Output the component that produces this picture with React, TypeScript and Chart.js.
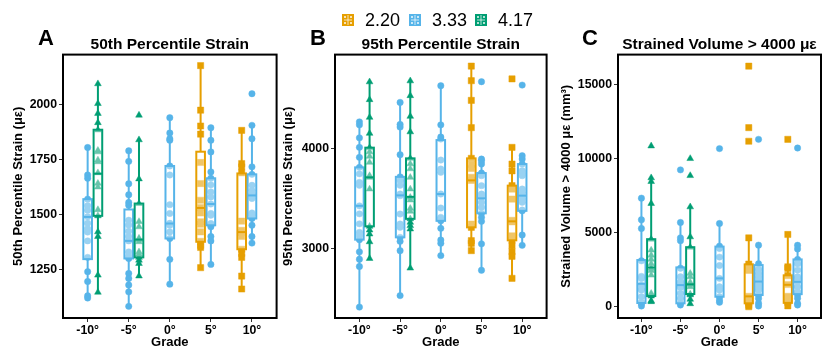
import React, { useEffect, useRef } from "react";
import { Chart, registerables } from "chart.js";

Chart.register(...registerables);

const FONT = "'Liberation Sans', Arial, Helvetica, sans-serif";
Chart.defaults.font.family = FONT;

// ---------- categories / groups ----------
const GRADES = ["-10°", "-5°", "0°", "5°", "10°"];
const GROUPS = ["2.20", "3.33", "4.17"];
const COLORS = ["#E69F00", "#56B4E9", "#009E73"];
const HALOS = ["rgba(230,159,0,0.45)", "rgba(86,180,233,0.45)", "rgba(0,158,115,0.45)"];
const SHAPES = ["rect", "circle", "triangle"];

// ---------- Panel A: 50th percentile strain (points per grade) ----------
const P50_ORANGE = [null, null, null,
  [2178, 1975, 1903, 1866, 1737, 1641, 1565, 1532, 1507, 1467, 1456, 1421, 1378, 1360, 1350, 1258],
  [1883, 1732, 1717, 1690, 1470, 1428, 1418, 1400, 1342, 1323, 1305, 1220, 1161]];
const P50_BLUE = [
  [1805, 1680, 1665, 1570, 1540, 1520, 1490, 1460, 1435, 1420, 1380, 1305, 1240, 1195, 1130, 1120],
  [1790, 1742, 1640, 1590, 1555, 1542, 1474, 1452, 1424, 1400, 1380, 1330, 1312, 1300, 1232, 1209, 1179, 1148, 1082],
  [1941, 1871, 1845, 1838, 1721, 1680, 1545, 1505, 1460, 1451, 1421, 1391, 1296, 1183],
  [1895, 1838, 1785, 1694, 1665, 1635, 1603, 1580, 1548, 1505, 1497, 1459, 1451, 1444, 1400, 1380, 1273],
  [2050, 1906, 1845, 1717, 1683, 1633, 1610, 1595, 1583, 1573, 1507, 1497, 1482, 1451, 1400, 1370]];
const P50_GREEN = [
  [2095, 2005, 1960, 1918, 1885, 1792, 1785, 1748, 1740, 1690, 1642, 1625, 1522, 1494, 1421, 1400, 1224, 1146],
  [1952, 1840, 1662, 1550, 1468, 1444, 1392, 1386, 1376, 1330, 1320, 1305, 1292, 1277, 1220],
  null, null, null];
// box stats: [whisker low, Q1, median, Q3, whisker high]
const P50_ORANGE_BOX = [null, null, null, [1258, 1376, 1530, 1786, 2178], [1161, 1342, 1420, 1687, 1883]];
const P50_BLUE_BOX = [[1120, 1297, 1489, 1570, 1805], [1082, 1300, 1380, 1523, 1790], [1183, 1391, 1459, 1721, 1941],
  [1273, 1451, 1548, 1665, 1895], [1370, 1482, 1587, 1683, 1906]];
const P50_GREEN_BOX = [[1146, 1494, 1686, 1886, 2095], [1220, 1305, 1386, 1550, 1840], null, null, null];
const P50_TICKS = [1250, 1500, 1750, 2000];

// ---------- Panel B: 95th percentile strain ----------
const P95_ORANGE = [null, null, null,
  [4823, 4677, 4480, 4207, 3900, 3840, 3800, 3710, 3680, 3243, 3210, 3077, 3050, 2977],
  [4695, 4010, 3843, 3775, 3627, 3593, 3493, 3280, 3265, 3125, 3080, 3027, 2967, 2920, 2700]];
const P95_BLUE = [
  [4265, 4235, 4105, 4010, 3910, 3810, 3745, 3660, 3630, 3425, 3345, 3245, 3160, 3127, 3087, 2965, 2890, 2818, 2412],
  [4460, 4240, 4213, 3937, 3715, 3677, 3630, 3543, 3527, 3343, 3243, 3210, 3110, 3070, 2977, 2527],
  [4627, 4235, 4113, 4093, 3883, 3793, 3760, 3543, 3403, 3310, 3293, 3275, 3200, 3083, 3050, 2927],
  [4667, 3893, 3877, 3843, 3753, 3727, 3627, 3543, 3510, 3460, 3410, 3350, 3310, 3270, 3045, 2780],
  [4633, 3927, 3893, 3843, 3777, 3750, 3727, 3593, 3560, 3527, 3493, 3460, 3383, 3375, 3133, 3030]];
const P95_GREEN = [
  [4665, 4487, 4310, 4150, 4007, 3965, 3920, 3860, 3727, 3710, 3593, 3220, 3183, 3143, 3065, 2898],
  [4675, 4527, 4320, 4165, 3900, 3845, 3795, 3710, 3593, 3510, 3483, 3400, 3370, 3295, 3260, 3227, 3193, 2802],
  null, null, null];
const P95_ORANGE_BOX = [null, null, null, [2977, 3210, 3680, 3900, 4823], [2700, 3080, 3270, 3627, 4010]];
const P95_BLUE_BOX = [[2412, 3087, 3425, 3810, 4265], [2527, 3110, 3530, 3715, 4460], [2927, 3275, 3543, 4083, 4627],
  [2780, 3350, 3500, 3753, 3893], [3030, 3375, 3527, 3843, 3927]];
const P95_GREEN_BOX = [[2898, 3220, 3710, 4007, 4665], [2802, 3295, 3515, 3900, 4675], null, null, null];
const P95_TICKS = [3000, 4000];

// ---------- Panel C: strained volume > 4000 με (mm³) ----------
const VOL_ORANGE = [null, null, null,
  [16240, 12090, 11170, 4650, 2880, 2700, 2520, 2450, 700, 450, 250, 100, 0],
  [11300, 4878, 2696, 2590, 2100, 1500, 700, 560, 300, 60]];
const VOL_BLUE = [
  [7330, 5870, 5283, 3100, 2050, 1900, 1450, 1200, 1125, 674, 300, 200, 50],
  [9240, 5688, 4650, 4460, 2600, 2022, 1685, 1460, 1300, 903, 566, 229, 115],
  [10675, 5620, 4090, 3935, 3350, 2780, 1914, 1348, 1125, 674, 450, 300],
  [11300, 4158, 2900, 2520, 2250, 2000, 1752, 1577, 1348, 1125, 790, 560, 230, 50],
  [10715, 4150, 3900, 3194, 2900, 2473, 2022, 1914, 1700, 1348, 1000, 788, 566, 229, 115]];
const VOL_GREEN = [
  [10850, 8700, 8450, 6968, 4560, 3820, 3480, 3200, 2900, 2600, 2450, 2130, 900, 720, 400, 340],
  [10000, 8850, 6740, 4717, 4020, 2251, 2022, 1650, 1510, 1348, 856, 800, 500, 200],
  null, null, null];
const VOL_ORANGE_BOX = [null, null, null, [0, 230, 700, 2860, 4650], [60, 260, 1480, 2120, 4878]];
const VOL_BLUE_BOX = [[50, 250, 1550, 3150, 7330], [115, 229, 1460, 2655, 5688], [300, 674, 1914, 4060, 5620],
  [50, 790, 1700, 2810, 4158], [115, 850, 1680, 3194, 4150]];
const VOL_GREEN_BOX = [[340, 720, 2650, 4560, 8700], [200, 856, 1510, 4020, 6740], null, null, null];
const VOL_TICKS = [0, 5000, 10000, 15000];

// ---------- panel definitions (built from the arrays above) ----------
const PANELS = [
  {
    letter: "A", left: 0, width: 282, plotLeft: 63, padRight: 5,
    title: "50th Percentile Strain", yTitle: "50th Percentile Strain (με)",
    yMin: 1029, yMax: 2228, ticks: P50_TICKS,
    points: [P50_ORANGE, P50_BLUE, P50_GREEN], boxes: [P50_ORANGE_BOX, P50_BLUE_BOX, P50_GREEN_BOX],
  },
  {
    letter: "B", left: 270, width: 282, plotLeft: 335, padRight: 3,
    title: "95th Percentile Strain", yTitle: "95th Percentile Strain (με)",
    yMin: 2303, yMax: 4938, ticks: P95_TICKS,
    points: [P95_ORANGE, P95_BLUE, P95_GREEN], boxes: [P95_ORANGE_BOX, P95_BLUE_BOX, P95_GREEN_BOX],
  },
  {
    letter: "C", left: 548, width: 283, plotLeft: 618, padRight: 10,
    title: "Strained Volume > 4000 με", yTitle: "Strained Volume > 4000 με (mm³)",
    yMin: -761, yMax: 17020, ticks: VOL_TICKS,
    points: [VOL_ORANGE, VOL_BLUE, VOL_GREEN], boxes: [VOL_ORANGE_BOX, VOL_BLUE_BOX, VOL_GREEN_BOX],
  },
];

const DODGE = [-0.25, 0, 0.25];
const BOX_HALF = 0.105;
const RADII = [4.4, 3.2, 3.9];
const PAD_LEFT = 11;

function makeBoxPlugin(boxes) {
  return {
    id: "boxes",
    beforeDatasetsDraw(chart) {
      const { ctx } = chart;
      const x = chart.scales.x, y = chart.scales.y;
      ctx.save();
      ctx.lineWidth = 2;
      boxes.forEach((byGrade, s) => {
        byGrade.forEach((st, i) => {
          if (!st) return;
          const [lo, q1, , q3, hi] = st;
          const xc = x.getPixelForValue(i + DODGE[s]);
          ctx.strokeStyle = COLORS[s];
          ctx.beginPath();
          ctx.moveTo(xc, y.getPixelForValue(lo));
          ctx.lineTo(xc, y.getPixelForValue(q1));
          ctx.moveTo(xc, y.getPixelForValue(q3));
          ctx.lineTo(xc, y.getPixelForValue(hi));
          ctx.stroke();
        });
      });
      ctx.restore();
    },
    afterDatasetsDraw(chart) {
      const { ctx, chartArea: a } = chart;
      const x = chart.scales.x, y = chart.scales.y;
      ctx.save();
      boxes.forEach((byGrade, s) => {
        byGrade.forEach((st, i) => {
          if (!st) return;
          const [, q1, med, q3] = st;
          const x0 = x.getPixelForValue(i + DODGE[s] - BOX_HALF);
          const x1 = x.getPixelForValue(i + DODGE[s] + BOX_HALF);
          const yTop = y.getPixelForValue(q3);
          const yBot = y.getPixelForValue(q1);
          const yMed = y.getPixelForValue(med);
          ctx.fillStyle = "rgba(255,255,255,0.4)";
          ctx.fillRect(x0, yTop, x1 - x0, yBot - yTop);
          ctx.strokeStyle = COLORS[s];
          ctx.lineWidth = 2;
          ctx.strokeRect(x0, yTop, x1 - x0, yBot - yTop);
          ctx.beginPath();
          ctx.moveTo(x0, yMed);
          ctx.lineTo(x1, yMed);
          ctx.stroke();
        });
      });
      ctx.strokeStyle = "#000";
      ctx.lineWidth = 2;
      ctx.strokeRect(a.left, a.top, a.right - a.left, a.bottom - a.top);
      ctx.restore();
    },
  };
}

function makeConfig(p) {
  const datasets = p.points.map((byGrade, s) => ({
    label: GROUPS[s],
    data: byGrade.flatMap((vals, i) => (vals ? vals.map((v) => ({ x: i + DODGE[s], y: v })) : [])),
    pointStyle: SHAPES[s],
    pointRadius: RADII[s],
    pointBackgroundColor: COLORS[s],
    pointBorderColor: HALOS[s],
    pointBorderWidth: 1,
    showLine: false,
  }));
  const tickFont = { family: FONT, size: 12.3, weight: "bold" };
  const titleFont = { family: FONT, size: 13, weight: "bold" };
  return {
    type: "scatter",
    data: { datasets },
    options: {
      animation: false,
      responsive: false,
      maintainAspectRatio: false,
      devicePixelRatio: 1,
      events: [],
      layout: { padding: { left: PAD_LEFT, right: p.padRight, top: 35, bottom: 0 } },
      plugins: {
        legend: { display: false },
        tooltip: { enabled: false },
        title: {
          display: true,
          text: p.title,
          fullSize: false,
          color: "#000",
          font: { family: FONT, size: 15.5, weight: "bold" },
          padding: { top: 0, bottom: 1 },
        },
      },
      scales: {
        x: {
          type: "linear",
          min: -0.6,
          max: 4.6,
          afterBuildTicks: (sc) => {
            sc.ticks = GRADES.map((_, i) => ({ value: i }));
          },
          afterFit: (sc) => {
            sc.height = 35;
          },
          ticks: {
            callback: (_v, i) => GRADES[i],
            color: "#000",
            font: tickFont,
            padding: 1,
            autoSkip: false,
            maxRotation: 0,
          },
          grid: { display: true, drawOnChartArea: false, drawTicks: true, tickLength: 4, color: "#333" },
          border: { display: false },
          title: { display: true, text: "Grade", color: "#000", font: titleFont, padding: { top: 0, bottom: 3 } },
        },
        y: {
          type: "linear",
          min: p.yMin,
          max: p.yMax,
          afterBuildTicks: (sc) => {
            sc.ticks = p.ticks.map((v) => ({ value: v }));
          },
          afterFit: (sc) => {
            sc.width = p.plotLeft - p.left - PAD_LEFT;
          },
          ticks: {
            callback: (v) => String(v),
            color: "#000",
            font: tickFont,
            padding: 2,
          },
          grid: { display: true, drawOnChartArea: false, drawTicks: true, tickLength: 4, color: "#333" },
          border: { display: false },
          title: { display: true, text: p.yTitle, color: "#000", font: titleFont, padding: { top: 0, bottom: 0 } },
        },
      },
    },
    plugins: [makeBoxPlugin(p.boxes)],
  };
}

function Panel({ p }) {
  const ref = useRef(null);
  useEffect(() => {
    const chart = new Chart(ref.current, makeConfig(p));
    return () => chart.destroy();
  }, [p]);
  return (
    <canvas
      ref={ref}
      width={p.width}
      height={353}
      style={{ position: "absolute", left: p.left, top: 0, width: p.width, height: 353 }}
    />
  );
}

const LETTER_POS = [38, 310, 582];
const LEGEND_ICON_X = [342, 409, 475];
const LEGEND_TEXT_X = [365, 432, 498];

function LegendIcon({ color, left }) {
  const dot = (l, t) => (
    <div style={{ position: "absolute", left: l, top: t, width: 2, height: 2, background: "rgba(255,255,255,0.7)" }} />
  );
  return (
    <div style={{ position: "absolute", left, top: 14, width: 12, height: 12, background: color }}>
      <div style={{ position: "absolute", left: 5, top: 1, width: 2, height: 10, background: "rgba(255,255,255,0.35)" }} />
      <div style={{ position: "absolute", left: 2, top: 5, width: 8, height: 2, background: "rgba(255,255,255,0.35)" }} />
      {dot(2, 2)}
      {dot(8, 2)}
      {dot(2, 8)}
      {dot(8, 8)}
    </div>
  );
}

export default function App() {
  return (
    <div
      style={{
        position: "absolute", left: 0, top: 0, width: 831, height: 353,
        background: "#fff", fontFamily: FONT, overflow: "hidden",
      }}
    >
      {PANELS.map((p) => (
        <Panel key={p.letter} p={p} />
      ))}
      {PANELS.map((p, i) => (
        <div
          key={"l" + p.letter}
          style={{
            position: "absolute", left: LETTER_POS[i], top: 27, fontSize: 22, lineHeight: "22px",
            fontWeight: "bold", color: "#000",
          }}
        >
          {p.letter}
        </div>
      ))}
      {GROUPS.map((g, i) => (
        <React.Fragment key={g}>
          <LegendIcon color={COLORS[i]} left={LEGEND_ICON_X[i]} />
          <div
            style={{
              position: "absolute", left: LEGEND_TEXT_X[i], top: 11, fontSize: 18, lineHeight: "18px", color: "#000",
            }}
          >
            {g}
          </div>
        </React.Fragment>
      ))}
    </div>
  );
}
